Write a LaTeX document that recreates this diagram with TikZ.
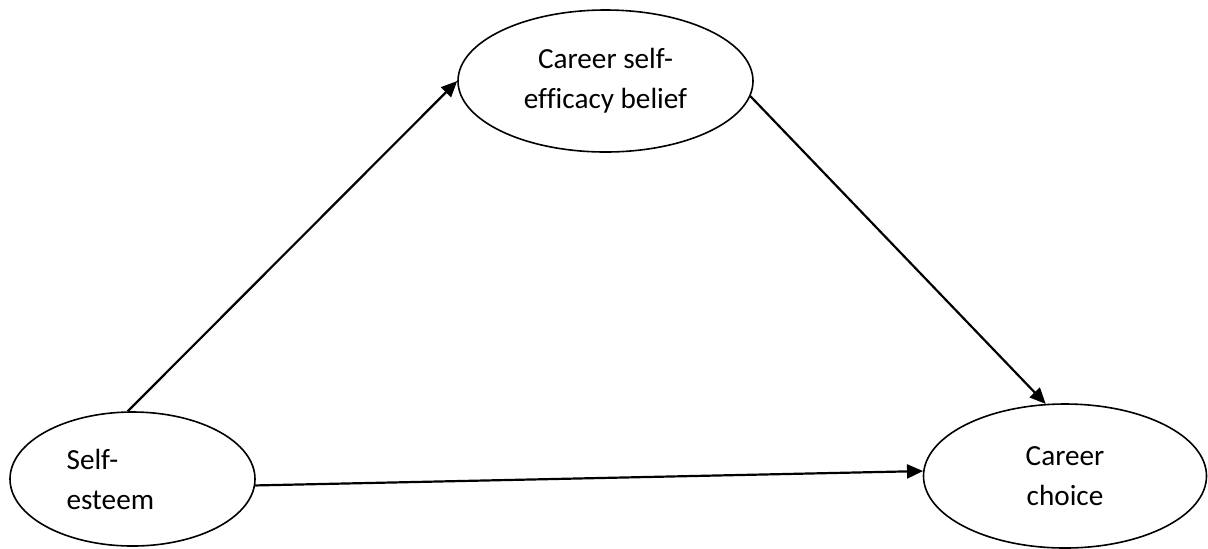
\documentclass[tikz,border=0pt]{standalone}
\usepackage{fontspec}
\setmainfont[Ligatures=NoCommon]{Carlito}
\usetikzlibrary{shapes.geometric,arrows.meta,positioning}

\begin{document}
\begin{tikzpicture}[x=0.5pt,y=-0.5pt,
    oval/.style={draw,ellipse,line width=0.8pt,inner sep=0pt,align=center,
        font=\fontsize{14.6}{20}\selectfont},
    link/.style={line width=1.1pt,-{Triangle[length=8pt,width=7pt]}}]
    \useasboundingbox (0,0) rectangle (1208,548);

    % Draw the three ellipses
    \node[oval,minimum width=122.5pt,minimum height=67pt] (self) at (132.5,479) {};
    \node[oval,minimum width=147.5pt,minimum height=71pt] (cse) at (605.5,81) {Career self-\\efficacy belief};
    \node[oval,minimum width=141.5pt,minimum height=72pt] (choice) at (1065,476) {Career\\choice};

    % Text of the left one sits off centre
    \node[align=left,inner sep=0pt,anchor=west,font=\fontsize{14.6}{20}\selectfont]
        (selflbl) at ([xshift=28.5pt]self.west) {Self-\\esteem};

    % Draw the paths
    \draw[link] (self.94) -- (cse.west);
    \draw[link] (cse.-6) -- (choice.105);
    \draw[link] (self.-3) -- (choice.178);
\end{tikzpicture}
\end{document}
